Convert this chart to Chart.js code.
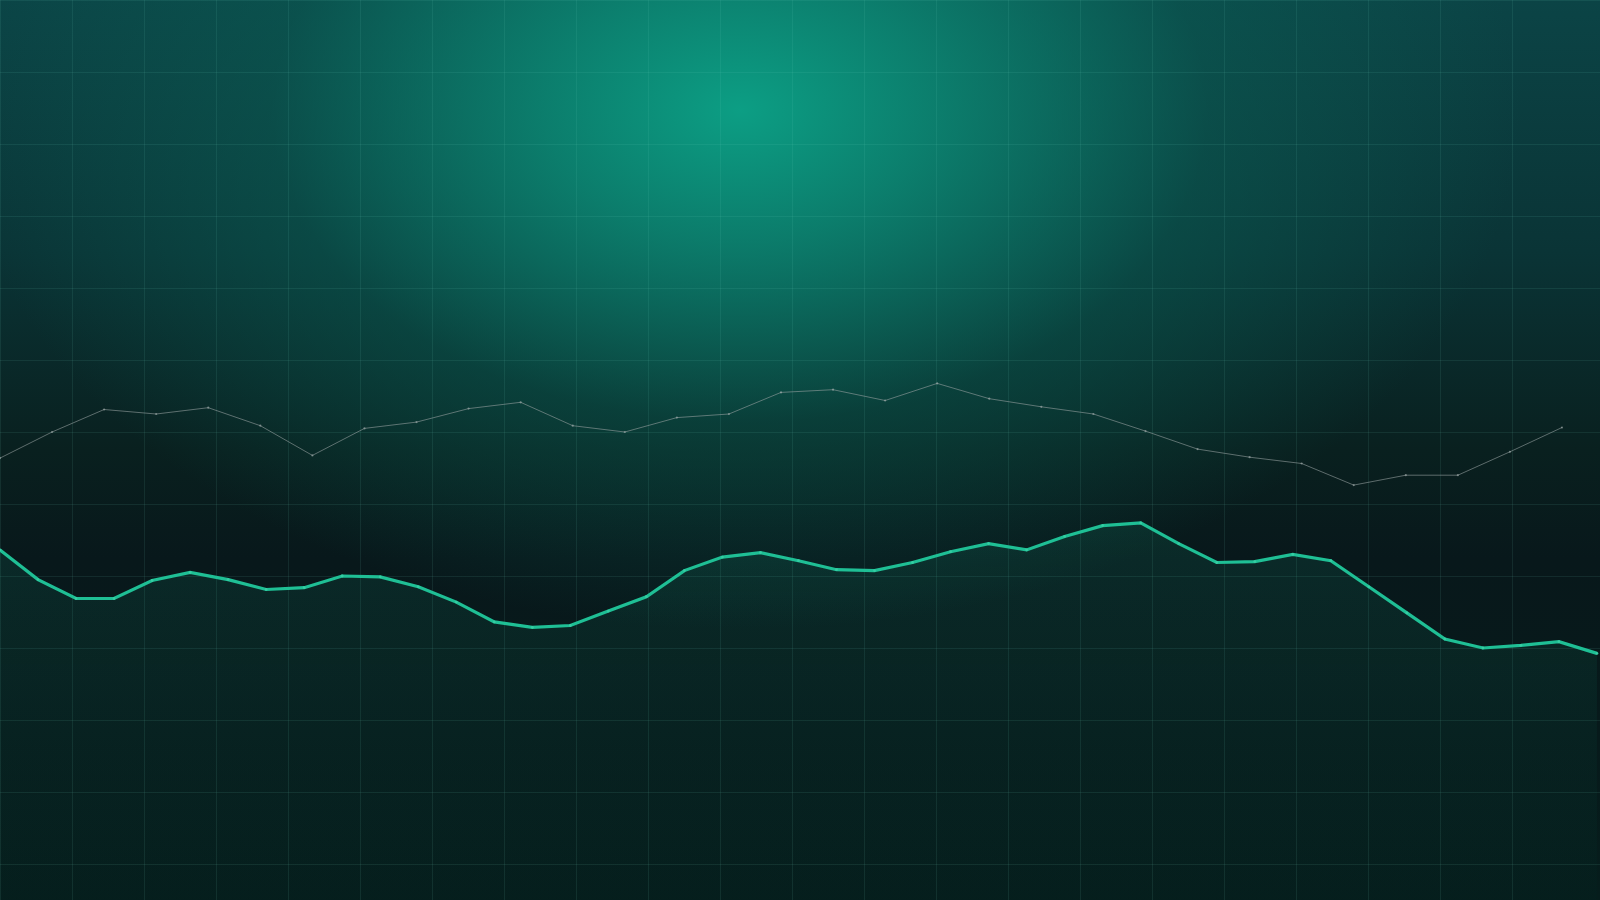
<!DOCTYPE html>
<html>
<head>
<meta charset="utf-8">
<title>Trend lines</title>
<script src="https://cdn.jsdelivr.net/npm/chart.js@4.4.1/dist/chart.umd.min.js"></script>
<style>
  html, body { margin: 0; padding: 0; background: #061a1b; }
  .wrap {
    position: relative;
    width: 1600px;
    height: 900px;
    overflow: hidden;
    background:
      radial-gradient(ellipse 780px 520px at 740px 110px,
        rgba(12, 158, 132, 1) 0%,
        rgba(12, 142, 120, 0.8) 25%,
        rgba(10, 100, 88, 0.42) 60%,
        rgba(10, 70, 66, 0) 100%),
      linear-gradient(180deg, #0b4446 0%, #0a3436 28%, #09201f 50%, #08181b 62%, #071a1b 82%, #061d1c 100%);
  }
</style>
</head>
<body>
<div class="wrap">
  <canvas id="chart"></canvas>
</div>
<script>
// upper (grey) series: 31 steps
const greyIdx = [0, 1, 2, 3, 4, 5, 6, 7, 8, 9, 10, 11, 12, 13, 14, 15,
  16, 17, 18, 19, 20, 21, 22, 23, 24, 25, 26, 27, 28, 29, 30];
const greyValues = [49.1, 52.0, 54.5, 54.0, 54.7, 52.7, 49.4, 52.4, 53.1, 54.6,
  55.3, 52.7, 52.0, 53.6, 54.0, 56.4, 56.7, 55.5, 57.4, 55.7,
  54.8, 54.0, 52.1, 50.1, 49.2, 48.5, 46.1, 47.2, 47.2, 49.8, 52.5];

// lower (green) series: 43 steps
const greenIdx = [0, 1, 2, 3, 4, 5, 6, 7, 8, 9, 10, 11, 12, 13, 14, 15,
  16, 17, 18, 19, 20, 21, 22, 23, 24, 25, 26, 27, 28, 29, 30, 31,
  32, 33, 34, 35, 36, 37, 38, 39, 40, 41, 42];
const greenValues = [38.9, 35.6, 33.5, 33.5, 35.5, 36.4, 35.6, 34.5, 34.7, 36.0,
  35.9, 34.8, 33.1, 30.9, 30.3, 30.5, 32.1, 33.7, 36.6, 38.1,
  38.6, 37.7, 36.7, 36.6, 37.5, 38.7, 39.6, 38.9, 40.4, 41.6,
  41.9, 39.6, 37.5, 37.6, 38.4, 37.7, 34.8, 31.9, 29.0, 28.0,
  28.3, 28.7, 27.4];

const greenFill = (context) => {
  const { chart } = context;
  const area = chart.chartArea;
  if (!area) return "rgba(30,190,150,0.06)";
  const g = chart.ctx.createLinearGradient(0, area.top + area.height * 0.57, 0, area.bottom);
  g.addColorStop(0, "rgba(30,190,150,0.12)");
  g.addColorStop(0.5, "rgba(30,190,150,0.06)");
  g.addColorStop(1, "rgba(30,190,150,0.01)");
  return g;
};

new Chart(document.getElementById("chart").getContext("2d"), {
  type: "line",
  data: {
    datasets: [
      {
        label: "Grey",
        data: greyIdx.map((x, i) => ({ x: x, y: greyValues[i] })),
        xAxisID: "xGrey",
        yAxisID: "y",
        borderColor: "rgba(150,160,160,0.6)",
        borderWidth: 1,
        pointRadius: 1.1,
        pointBackgroundColor: "rgba(170,180,180,0.6)",
        pointBorderWidth: 0,
        tension: 0,
        fill: false
      },
      {
        label: "Green",
        data: greenIdx.map((x, i) => ({ x: x, y: greenValues[i] })),
        xAxisID: "xGreen",
        yAxisID: "y",
        borderColor: "#1fbf95",
        borderWidth: 3.2,
        pointRadius: 1.4,
        pointBackgroundColor: "#36cda3",
        pointBorderWidth: 0,
        tension: 0,
        fill: "start",
        backgroundColor: greenFill
      }
    ]
  },
  options: {
    responsive: true,
    maintainAspectRatio: false,
    animation: false,
    layout: { padding: 0, autoPadding: false },
    plugins: {
      legend: { display: false },
      tooltip: { enabled: false }
    },
    scales: {
      xGreen: { type: "linear", display: false, min: 0, max: 42.08 },
      xGrey: { type: "linear", display: false, min: 0, max: 30.73 },
      y: { type: "linear", display: false, min: 0, max: 100 },
      // background grid, 72px squares
      gridX: {
        type: "linear",
        position: "bottom",
        min: 0,
        max: 22.2222,
        ticks: { display: false, stepSize: 1 },
        grid: { color: "rgba(120,220,200,0.1)", lineWidth: 1, drawTicks: false },
        border: { display: false }
      },
      gridY: {
        type: "linear",
        position: "left",
        reverse: true,
        min: 0,
        max: 12.5,
        ticks: { display: false, stepSize: 1 },
        grid: { color: "rgba(120,220,200,0.1)", lineWidth: 1, drawTicks: false },
        border: { display: false }
      }
    }
  }
});
</script>
</body>
</html>
